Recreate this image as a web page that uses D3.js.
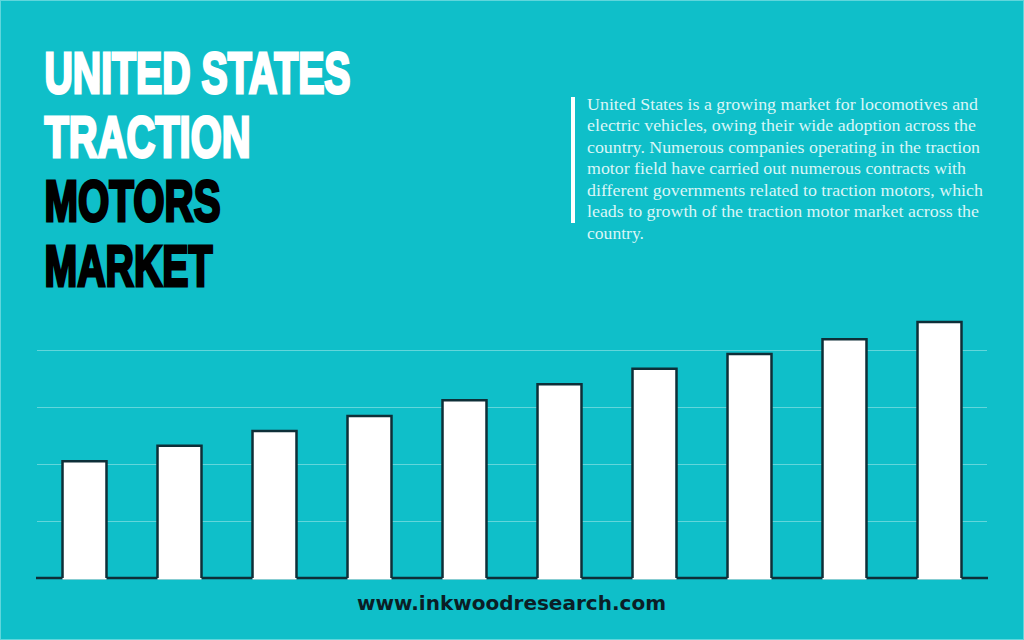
<!DOCTYPE html>
<html><head><meta charset="utf-8">
<script src="https://cdnjs.cloudflare.com/ajax/libs/d3/7.8.5/d3.min.js"></script>
<style>html,body{margin:0;padding:0;background:#0fbfc9}svg{display:block}</style>
</head><body><svg id="c" width="1024" height="640"></svg>
<script>
const categories = ["1","2","3","4","5","6","7","8","9","10"];
const values = [2.05,2.32,2.58,2.84,3.12,3.40,3.67,3.93,4.19,4.49];
const gridTicks = [1,2,3,4];
const titleWhite = ["UNITED STATES","TRACTION"];
const titleBlack = ["MOTORS","MARKET"];
const bodyLines = [
 "United States is a growing market for locomotives and",
 "electric vehicles, owing their wide adoption across the",
 "country. Numerous companies operating in the traction",
 "motor field have carried out numerous contracts with",
 "different governments related to traction motors, which",
 "leads to growth of the traction motor market across the",
 "country."];
const bodyWidths = [391,389,393,379,396,392,57];
const titleWidths = [306,206,176,168];
const footer = "www.inkwoodresearch.com";

const svg = d3.select("#c");
svg.append("rect").attr("width",1024).attr("height",640).attr("fill","#0fbfc9");
svg.append("rect").attr("x",.5).attr("y",.5).attr("width",1023).attr("height",639)
  .attr("fill","none").attr("stroke","#5fd6dc").attr("stroke-width",1);

const x = d3.scaleBand().domain(categories).range([37,987]).paddingInner(.537).paddingOuter(.2685);
const y = d3.scaleLinear().domain([0,4]).range([578,350]);

const grid = svg.append("g").attr("transform","translate(37,0)")
  .call(d3.axisLeft(y).tickValues(gridTicks).tickSize(-950).tickFormat(""));
grid.select(".domain").remove();
grid.selectAll(".tick line").attr("stroke","#62d6db").attr("stroke-width",1);

svg.append("line").attr("x1",36).attr("x2",988).attr("y1",y(0)).attr("y2",y(0))
  .attr("stroke","#0e2f38").attr("stroke-width",2.6);

const bars = svg.append("g").selectAll("g").data(values).join("g");
bars.append("rect").attr("x",(d,i)=>x(categories[i])).attr("width",x.bandwidth())
  .attr("y",d=>y(d)).attr("height",d=>y(0)-y(d)+1.5).attr("fill","#fff");
bars.append("path").attr("fill","none").attr("stroke","#0e2f38").attr("stroke-width",2.5)
  .attr("d",(d,i)=>{const a=x(categories[i]),b=a+x.bandwidth();
    return d3.line()([[a,y(0)],[a,y(d)],[b,y(d)],[b,y(0)]]);});

const titleBase = [92.5,157,220.5,285.5];
titleWhite.concat(titleBlack).forEach((t,i)=>{
  const col = i<2?"#fff":"#000";
  svg.append("text").attr("x",44.5).attr("y",titleBase[i]).text(t)
    .attr("font-family","'Liberation Sans Narrow','Liberation Sans',sans-serif")
    .attr("font-weight",700).attr("font-size",57)
    .attr("fill",col).attr("stroke",col).attr("stroke-width",3).attr("stroke-linejoin","miter")
    .attr("textLength",titleWidths[i]).attr("lengthAdjust","spacingAndGlyphs");
});

svg.append("rect").attr("x",571).attr("y",97).attr("width",4).attr("height",126).attr("fill","#fff");
bodyLines.forEach((t,i)=>{
  svg.append("text").attr("x",587).attr("y",109.5+i*21.5).text(t)
    .attr("font-family","'Liberation Serif',serif").attr("font-size",16.3)
    .attr("fill","#d9f6f7").attr("textLength",bodyWidths[i]).attr("lengthAdjust","spacingAndGlyphs");
});

svg.append("text").attr("x",357).attr("y",610).text(footer)
  .attr("font-family","'DejaVu Sans',sans-serif").attr("font-weight",700).attr("font-size",19)
  .attr("fill","#0b1e26").attr("textLength",309).attr("lengthAdjust","spacingAndGlyphs");
</script></body></html>
